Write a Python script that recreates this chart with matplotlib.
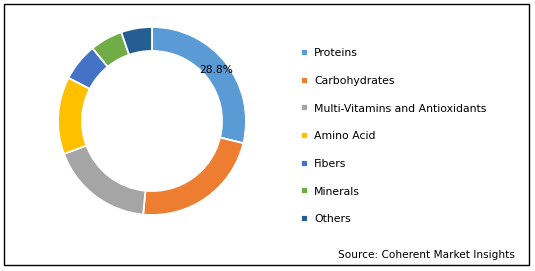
import matplotlib
matplotlib.use('Agg')
from matplotlib import pyplot as plt
from matplotlib.patches import Rectangle

matplotlib.rcParams['font.family'] = 'DejaVu Sans'

categories = ['Proteins', 'Carbohydrates', 'Multi-Vitamins and Antioxidants',
              'Amino Acid', 'Fibers', 'Minerals', 'Others']
shares = [28.8, 22.7, 17.8, 13.3, 6.5, 5.6, 5.3]
colors = ['#5B9BD5', '#ED7D31', '#A5A5A5', '#FFC000', '#4472C4', '#70AD47', '#255E91']
source = 'Source: Coherent Market Insights'

W, H = 535, 271
fig = plt.figure(figsize=(W / 100, H / 100), dpi=100)

# donut axes, centre ~ (152, 121) px, outer radius ~94 px
cx, cy, r = 152, 121, 94
ax = fig.add_axes([(cx - r) / W, (H - cy - r) / H, 2 * r / W, 2 * r / H])

wedges, texts, autotexts = ax.pie(
    shares, colors=colors, startangle=90, counterclock=False, radius=1,
    wedgeprops=dict(width=0.255, edgecolor='white', linewidth=1.3),
    autopct=lambda p: f'{p:.1f}%' if p > 25 else '', pctdistance=0.87,
    textprops=dict(fontsize=7.7, color='black'))
ax.set_xlim(-1, 1)
ax.set_ylim(-1, 1)
ax.axis('off')

fig.legend(wedges, categories, loc='upper left',
           bbox_to_anchor=(297 / W, 1 - 44 / H), frameon=False,
           fontsize=7.8, handlelength=0.65, handleheight=0.65,
           handletextpad=0.55, labelspacing=1.63, borderaxespad=0)

fig.text(515 / W, 1 - 255 / H, source, ha='right', va='center', fontsize=7.6)

fig.patches.append(Rectangle((4 / W, 1 - 265 / H), 525 / W, 261 / H,
                             transform=fig.transFigure, fill=False,
                             edgecolor='black', linewidth=1))

fig.savefig('out.png', dpi=100)
